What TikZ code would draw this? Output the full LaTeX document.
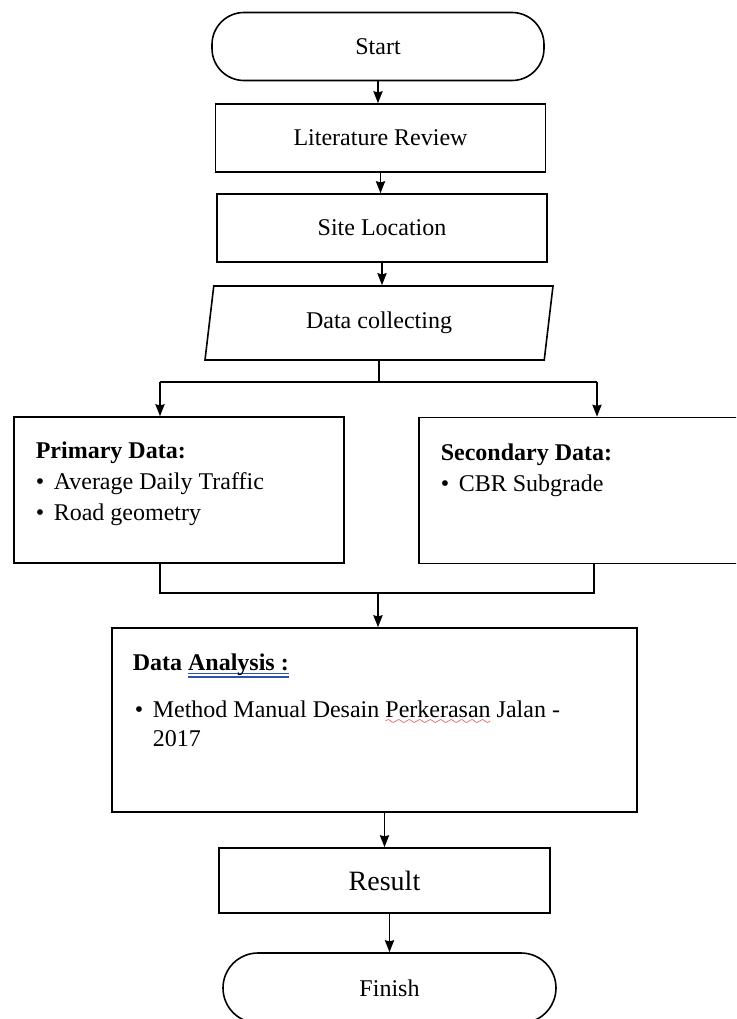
\documentclass[tikz,border=0pt]{standalone}
\usepackage{fontspec}
\setmainfont{Liberation Serif}
\usepackage{tikz}
\usetikzlibrary{shapes,arrows,arrows.meta,positioning,calc}
\definecolor{gramblue}{RGB}{46,84,170}
\definecolor{spellred}{RGB}{220,40,40}
\font\wavefont=lasy6
\newcommand\bul{\makebox[9pt][l]{\textbullet}}
\newcommand\gramline[1]{\setbox0\hbox{#1}\rlap{\color{gramblue}\rule[-2.2pt]{\wd0}{0.6pt}}\rlap{\color{gramblue}\rule[-3.8pt]{\wd0}{0.6pt}}\box0\relax}
\newcommand\spellwave[1]{\setbox0\hbox{#1}\rlap{\color{spellred}\lower3.5pt\hbox to\wd0{\xleaders\hbox{\wavefont\char58}\hfil}}\box0\relax}

\begin{document}
\begin{tikzpicture}[->,>={Stealth[length=6pt,width=4.6pt,inset=0.6pt]},line width=0.8pt,x=0.5pt,y=-0.5pt,font=\fontsize{12}{15.5}\selectfont]
\tikzstyle{terminal}=[draw,rectangle,rounded corners=16pt,minimum width=166pt,minimum height=34pt]
\tikzstyle{process}=[draw,rectangle,minimum width=165pt,minimum height=34pt]
\tikzstyle{io}=[draw,trapezium,trapezium left angle=76,trapezium right angle=104,trapezium stretches body,minimum width=174pt,minimum height=37pt]
\tikzstyle{datab}=[draw,rectangle,minimum height=73pt]
\tikzstyle{txt}=[anchor=base west,inner sep=0pt,align=left]
\clip (0,0) rectangle (736,1019);
% main column
\node[terminal] (start) at (378,46.5) {Start};
\node[process][below of=start,node distance=45.75pt,xshift=1.25pt] (lit) {Literature Review};
\node[process][below of=lit,node distance=45pt,xshift=0.75pt] (site) {Site Location};
\node[io][below of=site,node distance=47.5pt,xshift=-1.5pt] (collect) {Data collecting};
% data boxes
\node[datab,minimum width=165pt] (prim) at (179,490) {};
\node[datab,minimum width=161pt] (sec) at (580,490.5) {};
% base of a multi-line text is its last line
\node[txt] (primtxt) at (35,520) {\textbf{Primary Data:}\\\bul Average Daily Traffic\\\bul Road geometry};
\node[txt] (sectxt) at (440,491) {\textbf{Secondary Data:}\\\bul CBR Subgrade};
\coordinate (sl) at (160,382);
\coordinate (sr) at (597,382);
\coordinate (jl) at (160,593);
\coordinate (jr) at (594,593);
\coordinate (jm) at (378,593);
% analysis and end
\node[draw,rectangle,minimum width=262.5pt,minimum height=92pt] (anal) at (374.5,720) {};
\node[txt] (analhead) at (132,670) {\textbf{Data \gramline{Analysis :}}};
\node[txt,font=\fontsize{12}{14.5}\selectfont] (analtxt) at (134,746) {\bul Method Manual Desain \spellwave{Perkerasan} Jalan -\\\hphantom{\bul}2017};
\node[process,minimum width=165.5pt,minimum height=32.5pt,font=\fontsize{14}{16}\selectfont][below of=anal,node distance=80.25pt,xshift=5pt] (result) {Result};
\node[terminal,minimum width=166.5pt,minimum height=35pt,rounded corners=17.5pt][below of=result,node distance=53.75pt,xshift=2.5pt] (finish) {Finish};
% connectors
\draw (start.south) -- (start.south |- lit.north);
\draw (lit.south) -- (lit.south |- site.north);
\draw (site.south) -- (site.south |- collect.north);
\draw[-] (collect.south) -- (collect.south |- sl);
\draw[-] (sl) -- (sr);
\draw (sl) -- (sl |- prim.north);
\draw (sr) -- (sr |- sec.north);
\draw[-] (prim.south -| jl) -- (jl) -- (jr) -- (sec.south -| jr);
\draw (jm) -- (jm |- anal.north);
\draw (anal.south -| result) -- (result.north);
\draw (result.south -| finish) -- (finish.north);
\end{tikzpicture}
\end{document}
